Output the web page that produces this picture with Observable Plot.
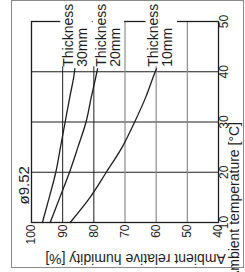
<!DOCTYPE html>
<html><head><meta charset="utf-8">
<script src="https://cdn.jsdelivr.net/npm/d3@7"></script>
<script src="https://cdn.jsdelivr.net/npm/@observablehq/plot@0.6"></script>
<style>
html,body{margin:0;padding:0;background:#fff;}
#wrap{position:relative;width:245px;height:272px;overflow:hidden;}
#border{position:absolute;left:11px;top:0;width:233px;height:268px;border:1.5px solid #8a8a8a;box-sizing:border-box;pointer-events:none;}
</style></head><body>
<div id="wrap"><div id="chart"></div><div id="border"></div></div>
<script>
// ---- data ----
const temperature = [10, 15, 20, 25, 30, 35, 40, 40.6];
const humidity30mm = [96.5, 94.3, 92.2, 90.7, 89.2, 87.7, 86.2, 86.1];
const humidity20mm = [94.0, 90.9, 87.8, 85.1, 82.5, 80.8, 79.0, 78.8];
const humidity10mm = [87.6, 81.2, 76.0, 70.9, 66.9, 63.3, 60.3, 59.9];
const seriesNames = ["Thickness\n30mm", "Thickness\n20mm", "Thickness\n10mm"];
const humidityTicks = [100, 90, 80, 70, 60, 50, 40];
const temperatureTicks = [10, 20, 30, 40, 50];
const darkHumidityGrid = [90, 80];
const lightHumidityGrid = [70, 60, 50];
const temperatureGrid = [20, 30, 40];
const xLabel = "Ambient relative humidity [%]";
const yLabel = "Ambient temperature [°C]";
const pipeLabel = "ø9.52";

// ---- build table ----
const seriesValues = [humidity30mm, humidity20mm, humidity10mm];
const rows = [];
seriesValues.forEach((vals, s) => vals.forEach((h, i) => rows.push({series: seriesNames[s], temperature: temperature[i], humidity: h})));
const ends = seriesValues.map((vals, s) => ({series: seriesNames[s], temperature: temperature[temperature.length - 1], humidity: vals[vals.length - 1]}));

// label styling offsets (pixels)
const labelDx = [-11.5, -2, -8];

const ink = "#1e1e1e";
const font = "'Liberation Sans', Arial, sans-serif";

const labelMarks = ends.map((d, i) =>
  Plot.rect([d], {x1: "humidity", x2: "humidity", y1: "temperature", y2: "temperature", fill: "white",
    insetLeft: labelDx[i] - 2.5, insetRight: -(labelDx[i] + 29), insetTop: -64, insetBottom: 2})
);
const labelTexts = ends.map((d, i) =>
  Plot.text([d], {x: "humidity", y: "temperature", text: "series", rotate: -90, textAnchor: "start", lineAnchor: "top",
    dx: labelDx[i], dy: -2, fontSize: 14, lineHeight: 1.0, fill: ink})
);

const chart = Plot.plot({
  width: 245, height: 272,
  marginLeft: 31, marginRight: 27, marginTop: 21, marginBottom: 50,
  style: {fontFamily: font, background: "white", color: ink},
  x: {domain: [100, 40]},
  y: {domain: [10, 50]},
  marks: [
    Plot.ruleY(temperatureGrid, {stroke: ink, strokeWidth: 1}),
    Plot.ruleX(lightHumidityGrid, {stroke: "#8c8c8c", strokeWidth: 1.2}),
    Plot.ruleX(darkHumidityGrid, {stroke: ink, strokeWidth: 1}),
    Plot.frame({stroke: ink, strokeWidth: 1.3}),
    ...labelMarks,
    Plot.line(rows, {x: "humidity", y: "temperature", z: "series", stroke: ink, strokeWidth: 1.3, curve: "monotone-y"}),
    ...labelTexts,
    Plot.axisX({ticks: humidityTicks, tickSize: 0, tickRotate: -90, tickPadding: 2, fontSize: 12, label: null, fill: ink}),
    Plot.axisY({anchor: "right", ticks: temperatureTicks, tickSize: 0, tickRotate: -90, tickPadding: 9, fontSize: 12, label: null, fill: ink}),
    Plot.text([xLabel], {frameAnchor: "bottom", rotate: 180, dx: 10.5, dy: 31, fontSize: 14, fill: ink}),
    Plot.text([yLabel], {frameAnchor: "right", rotate: -90, lineAnchor: "bottom", dx: 20.5, fontSize: 14, fill: ink}),
    Plot.text([pipeLabel], {frameAnchor: "bottom-left", rotate: -90, textAnchor: "start", lineAnchor: "bottom", dx: -3, dy: -18, fontSize: 15, fill: ink})
  ]
});
document.getElementById("chart").appendChild(chart);
</script>
</body></html>
